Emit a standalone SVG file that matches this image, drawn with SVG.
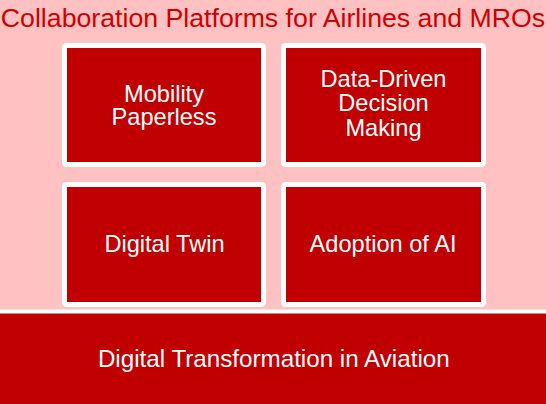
<svg xmlns="http://www.w3.org/2000/svg" width="546" height="404" viewBox="0 0 546 404">
  <style>
    .box { fill: #C00000; stroke: #FFFFFF; stroke-width: 5; }
    .lbl { font-family: "Liberation Sans", Arial, sans-serif; font-size: 23.6px; fill: #FFFFFF; text-anchor: middle; }
    .title { font-family: "Liberation Sans", Arial, sans-serif; font-size: 26.7px; fill: #D00000; text-anchor: middle; }
  </style>
  <rect x="0" y="0" width="546" height="404" fill="#FFC1C1"/>
  <text class="title" x="273" y="27">Collaboration Platforms for Airlines and MROs</text>
  <g id="node-mobility">
    <rect class="box" x="64.5" y="45.5" width="199" height="119" rx="2"/>
    <text class="lbl" x="164" y="101.5">Mobility</text>
    <text class="lbl" x="164" y="125">Paperless</text>
  </g>
  <g id="node-data-driven">
    <rect class="box" x="283.5" y="45.5" width="200" height="119" rx="2"/>
    <text class="lbl" x="383.5" y="86.5">Data-Driven</text>
    <text class="lbl" x="383.5" y="111">Decision</text>
    <text class="lbl" x="383.5" y="135.5">Making</text>
  </g>
  <g id="node-digital-twin">
    <rect class="box" x="64.5" y="184.5" width="199" height="120" rx="2"/>
    <text class="lbl" x="164.5" y="252.3">Digital Twin</text>
  </g>
  <g id="node-ai">
    <rect class="box" x="283.5" y="184.5" width="200" height="120" rx="2"/>
    <text class="lbl" x="383" y="252.3">Adoption of AI</text>
  </g>
  <g id="node-foundation">
    <rect x="-5" y="311.5" width="556" height="100" fill="#C00000" stroke="#FFFFFF" stroke-width="4"/>
    <text class="lbl" style="font-size:24.2px" x="273.8" y="367.3">Digital Transformation in Aviation</text>
  </g>
  <g id="connectors"/>
</svg>
